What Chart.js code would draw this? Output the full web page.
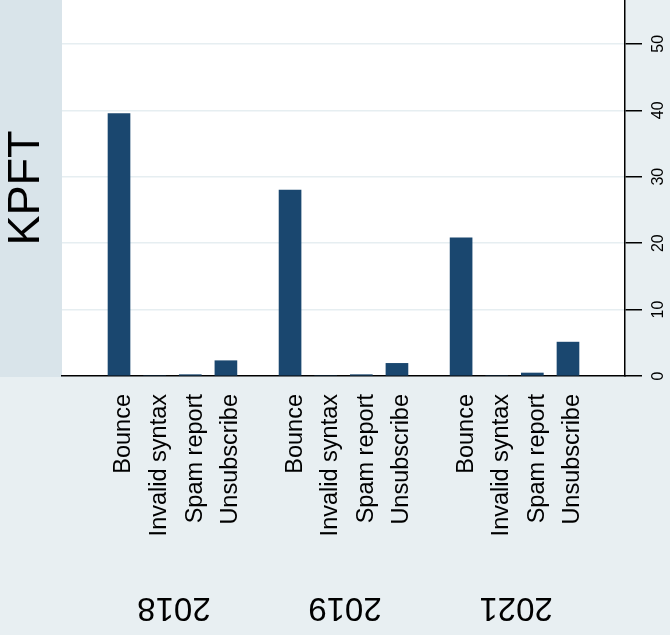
<!DOCTYPE html>
<html>
<head>
<meta charset="utf-8">
<script src="https://cdn.jsdelivr.net/npm/chart.js@4/dist/chart.umd.min.js"></script>
<style>
  html, body { margin: 0; padding: 0; background: #e8eff2; }
  #wrap { width: 670px; height: 635px; }
</style>
</head>
<body>
<div id="wrap"><canvas id="chart" width="670" height="635"></canvas></div>
<script>
const years = ['2018', '2019', '2021'];
const reasons = ['Bounce', 'Invalid syntax', 'Spam report', 'Unsubscribe'];
const values2018 = [39.5, 0, 0.2, 2.3];
const values2019 = [28.0, 0, 0.2, 1.9];
const values2021 = [20.8, 0, 0.45, 5.1];
const yTicks = [0, 10, 20, 30, 40, 50];
const yTitle = 'KPFT';

const seriesByYear = [values2018, values2019, values2021];
const groupStep = reasons.length + 0.8; // gap between the year groups
const fontFamily = '"Liberation Sans", Arial, Helvetica, sans-serif';
const barColor = '#1a476f';

// x position of every bar, year after year
const xPos = (g, c) => g * groupStep + c;
const tickPositions = [];
const tickLabels = [];
years.forEach((y, g) => {
  reasons.forEach((r, c) => {
    tickPositions.push(xPos(g, c));
    tickLabels.push(r);
  });
});

const datasets = years.map((year, g) => {
  return {
    label: year,
    data: seriesByYear[g].map((v, c) => ({ x: xPos(g, c), y: v })),
    backgroundColor: barColor,
    borderWidth: 0,
    barThickness: 22,
    grouped: false,
  };
});

//fondo: panel gris a la izquierda y area blanca
const backgroundPlugin = {
  id: 'background',
  beforeDraw(chart) {
    const { ctx, chartArea } = chart;
    ctx.save();
    ctx.fillStyle = '#e8eff2';
    ctx.fillRect(0, 0, chart.width, chart.height);
    ctx.fillStyle = '#d9e4ea';
    ctx.fillRect(0, 0, chartArea.left, chartArea.bottom + 1);
    ctx.fillStyle = '#ffffff';
    ctx.fillRect(chartArea.left, chartArea.top, chartArea.right - chartArea.left, chartArea.bottom - chartArea.top);
    ctx.restore();
  },
};

//etiquetas de grupo (años) al reves
const groupLabelPlugin = {
  id: 'groupLabels',
  afterDraw(chart) {
    const { ctx } = chart;
    const xScale = chart.scales.x;
    ctx.save();
    ctx.font = `33px ${fontFamily}`;
    ctx.fillStyle = '#000000';
    ctx.textAlign = 'center';
    ctx.textBaseline = 'middle';
    years.forEach((year, g) => {
      const mid = (xPos(g, 0) + xPos(g, reasons.length - 1)) / 2;
      ctx.save();
      ctx.translate(xScale.getPixelForValue(mid) + 1.5, 607);
      ctx.rotate(Math.PI);
      ctx.fillText(year, 0, 0);
      ctx.restore();
    });
    ctx.restore();
  },
};

const noPadding = (scale) => {
  scale.paddingTop = 0;
  scale.paddingBottom = 0;
  scale.paddingLeft = 0;
  scale.paddingRight = 0;
};

const config = {
  type: 'bar',
  data: { datasets: datasets },
  options: {
    responsive: false,
    animation: false,
    layout: { padding: 0 },
    plugins: {
      legend: { display: false },
      tooltip: { enabled: false },
    },
    scales: {
      x: {
        type: 'linear',
        position: 'bottom',
        offset: false,
        min: -1.6,
        max: xPos(years.length - 1, reasons.length - 1) + 1.6,
        afterBuildTicks: (scale) => {
          scale.ticks = tickPositions.map((v) => ({ value: v }));
        },
        afterFit: (scale) => {
          scale.height = 259;
          noPadding(scale);
        },
        grid: { display: false, drawTicks: false },
        border: { display: true, color: '#000000', width: 1.5 },
        ticks: {
          autoSkip: false,
          minRotation: 90,
          maxRotation: 90,
          padding: 18,
          labelOffset: 5,
          color: '#000000',
          font: { family: fontFamily, size: 23.5 },
          callback: (value, index) => tickLabels[index],
        },
      },
      y: {
        position: 'right',
        min: 0,
        max: 56.6,
        afterBuildTicks: (scale) => {
          scale.ticks = yTicks.map((v) => ({ value: v }));
        },
        afterFit: (scale) => {
          scale.width = 45;
          noPadding(scale);
        },
        grid: {
          color: '#e6eef1',
          lineWidth: 1.5,
          tickLength: 17,
          tickColor: '#000000',
          tickWidth: 1.5,
        },
        border: { display: true, color: '#000000', width: 1.5 },
        ticks: {
          minRotation: 90,
          maxRotation: 90,
          crossAlign: 'center',
          padding: 8,
          color: '#000000',
          font: { family: fontFamily, size: 16 },
        },
      },
      yLeft: {
        position: 'left',
        display: true,
        afterFit: (scale) => {
          scale.width = 62;
          noPadding(scale);
        },
        grid: { display: false, drawTicks: false },
        border: { display: false },
        ticks: { display: false },
        title: {
          display: true,
          text: yTitle,
          color: '#000000',
          padding: 0,
          font: { family: fontFamily, size: 45 },
        },
      },
    },
  },
  plugins: [backgroundPlugin, groupLabelPlugin],
};

const chart = new Chart(document.querySelector('#chart'), config);
</script>
</body>
</html>
